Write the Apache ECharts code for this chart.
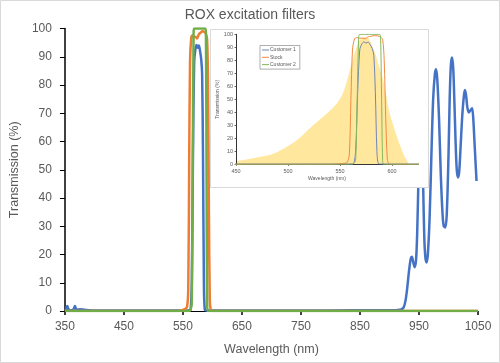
<!DOCTYPE html>
<html>
<head>
<meta charset="utf-8">
<script src="https://cdn.jsdelivr.net/npm/echarts@6/dist/echarts.min.js"></script>
<style>
html,body{margin:0;padding:0;background:#fff;}
#c{width:500px;height:363px;}
</style>
</head>
<body>
<div id="c"></div>
<script>
// ---- Data (wavelength nm -> transmission %) ----
var seriesNames = ['Customer 1', 'Stock', 'Customer 2'];
var excitationName = 'ROX excitation';

var customer1X = [350,352,354,356,359,362,365,367,369,372,376,380,385,390,400,500,555,561,563,565,567,569,571,573,575,577,579,581,582.5,584,585.5,587,590,700,800,880,905,915,920,924,927,930,933,936,938,940,942.5,945,947,949,951,953,955,957,959,961,963,965,968,971,974,977,979,981,984,987,990,992,994.5,997,1000,1002,1004,1006,1008,1010,1012,1014,1016,1018,1020,1023,1026,1028,1030,1032,1034.5,1037,1040,1042,1044,1046,1047.5];
var customer1Y = [0.3,0.6,1.8,0.6,0.3,0.3,0.8,1.8,0.6,0.5,0.6,0.5,0.4,0.3,0.2,0.2,0.2,0.3,0.5,10,55,88,92.5,94.2,93.2,94,92,89,84,55,10,0.5,0.2,0.2,0.2,0.3,0.3,0.4,0.6,1.3,3.5,8,14,18.5,19.2,17.5,15.5,18,28,46,62,69,64,45,26,18.5,17.2,20,33,55,75,84,85.6,82,68,48,34,30,29.6,34,55,75,87,89.7,86,74,60,50,47.3,49,56,68,76,78.2,76,72,70.3,71,71.8,68,60,52,46];

var stockX = [350,540,550,554,557,559,560.5,562,564,566,569,572,574,577,580,583,586,589,591,592.5,594,595.5,597,600,1050];
var stockY = [0,0,0.4,0.8,1.5,8,50,88,96.5,97.5,97,97,96.5,98,98.5,99,98.8,98,96,80,35,4,0.5,0,0];

var customer2X = [350,560,563,565,566.5,568,569,588,589,590,591,592,1050];
var customer2Y = [0,0,0.5,3,50,98,100,100,98,50,3,0,0];

var excitationX = [450,460,470,480,490,500,510,520,530,540,548,553,557,561,565,568,571,574,577,580,584,588,591,594,597,600,604,608,612,615,616];
var excitationY = [2.5,3.7,5.2,6.7,9.5,14,19.5,27,34,41,48,55,65,77,88,94,97,98,97,93,85,74,66,55,42,33,23,14,6,2,0];

var mainXTicks = [350,450,550,650,750,850,950,1050];
var insetXTicks = [450,500,550,600];

function zip(xs, ys){ return xs.map(function(x,i){ return [x, ys[i]]; }); }

var c1 = zip(customer1X, customer1Y);
var st = zip(stockX, stockY);
var c2 = zip(customer2X, customer2Y);
var ex = zip(excitationX, excitationY);

var colors = ['#4472C4', '#ED7D31', '#70AD47'];
var insetColors = ['#6f86b5', '#F08A42', '#86B85A'];
var txt = '#595959';
var font = 'Liberation Sans, Arial, sans-serif';
function plain(v){ return String(v); }

var chart = echarts.init(document.getElementById('c'), null, {renderer:'canvas'});

var option = {
  animation: false,
  backgroundColor: '#fff',
  textStyle: {fontFamily: font},
  title: {
    text: 'ROX excitation filters',
    left: 'center', top: 3,
    textStyle: {fontSize: 14, fontWeight: 'normal', color: txt, fontFamily: font}
  },
  legend: {
    data: seriesNames.map(function(n, i){ return {name: n, icon: 'rect', itemStyle: {color: insetColors[i]}}; }),
    orient: 'vertical',
    left: 260, top: 45.5,
    padding: [2, 4, 2, 2],
    itemGap: 2.3,
    itemWidth: 7, itemHeight: 1,
    borderColor: '#999', borderWidth: 0.8,
    backgroundColor: '#fff',
    textStyle: {fontSize: 5, color: txt, fontFamily: font, padding: [0,0,0,-4]},
    z: 20,
    selectedMode: false
  },
  graphic: [
    {type: 'rect', shape: {x: 0.5, y: 0.5, width: 499, height: 362}, style: {fill: 'none', stroke: '#d9d9d9', lineWidth: 1}, z: 0, silent: true},
    {type: 'rect', shape: {x: 210.5, y: 29.5, width: 218, height: 158}, style: {fill: '#fff', stroke: '#d9d9d9', lineWidth: 1}, z: 10, silent: true}
  ],
  grid: [
    {left: 59.5, right: 22, top: 28.5, bottom: 52},
    {left: 236, right: 82, top: 34.3, bottom: 198.7, z: 12}
  ],
  xAxis: [
    {
      type: 'value', gridIndex: 0, min: 350, max: 1050, interval: 100,
      name: 'Wavelength (nm)', nameLocation: 'middle', nameGap: 32,
      nameTextStyle: {fontSize: 12.5, color: txt, fontFamily: font},
      axisLine: {show: true, lineStyle: {color: '#000', width: 1}},
      axisTick: {show: true, length: 4, lineStyle: {color: '#000', width: 1.5}},
      axisLabel: {fontSize: 12, color: txt, margin: 10, fontFamily: font, formatter: plain},
      splitLine: {show: false}
    },
    {
      type: 'value', gridIndex: 1, min: 450, max: 625, interval: 50,
      name: 'Wavelength (nm)', nameLocation: 'middle', nameGap: 12,
      nameTextStyle: {fontSize: 5, color: txt, fontFamily: font},
      axisLine: {show: true, lineStyle: {color: '#000', width: 0.8}},
      axisTick: {show: true, length: 1.5, customValues: insetXTicks, lineStyle: {color: '#000', width: 0.6}},
      axisLabel: {fontSize: 5.5, color: txt, margin: 4, customValues: insetXTicks, fontFamily: font, formatter: plain},
      splitLine: {show: false},
      z: 13
    }
  ],
  yAxis: [
    {
      type: 'value', gridIndex: 0, min: 0, max: 100, interval: 10,
      name: 'Transmission (%)', nameLocation: 'middle', nameGap: 30,
      nameTextStyle: {fontSize: 12.5, color: txt, fontFamily: font},
      axisLine: {show: true, lineStyle: {color: '#000', width: 1.5}},
      axisTick: {show: true, length: 5, lineStyle: {color: '#000', width: 1}},
      axisLabel: {fontSize: 12, color: txt, margin: 13, fontFamily: font},
      splitLine: {show: false}
    },
    {
      type: 'value', gridIndex: 1, min: 0, max: 100, interval: 10,
      name: 'Transmission (%)', nameLocation: 'middle', nameGap: 14,
      nameTextStyle: {fontSize: 5, color: txt, fontFamily: font},
      axisLine: {show: true, lineStyle: {color: '#000', width: 0.8}},
      axisTick: {show: true, length: 1.5, lineStyle: {color: '#000', width: 0.6}},
      axisLabel: {fontSize: 5.5, color: txt, margin: 3, fontFamily: font},
      splitLine: {show: false},
      z: 13
    }
  ],
  series: [
    {name: excitationName, type: 'line', xAxisIndex: 1, yAxisIndex: 1, data: ex, symbol: 'none',
     lineStyle: {width: 0}, areaStyle: {color: '#FFE699', opacity: 0.95}, z: 12, silent: true, smooth: 0.3},
    {name: seriesNames[0], type: 'line', xAxisIndex: 1, yAxisIndex: 1, data: c1, symbol: 'none',
     lineStyle: {width: 1, color: insetColors[0]}, itemStyle: {color: insetColors[0]}, z: 14, smooth: 0.3},
    {name: seriesNames[1], type: 'line', xAxisIndex: 1, yAxisIndex: 1, data: st, symbol: 'none',
     lineStyle: {width: 1, color: insetColors[1]}, itemStyle: {color: insetColors[1]}, z: 14, smooth: 0.3},
    {name: seriesNames[2], type: 'line', xAxisIndex: 1, yAxisIndex: 1, data: c2, symbol: 'none',
     lineStyle: {width: 1, color: insetColors[2]}, itemStyle: {color: insetColors[2]}, z: 14, smooth: 0.3},
    {name: seriesNames[0], type: 'line', xAxisIndex: 0, yAxisIndex: 0, data: c1, symbol: 'none',
     lineStyle: {width: 2.5, color: colors[0]}, itemStyle: {color: colors[0]}, z: 2, smooth: 0.3},
    {name: seriesNames[1], type: 'line', xAxisIndex: 0, yAxisIndex: 0, data: st, symbol: 'none',
     lineStyle: {width: 2.5, color: colors[1]}, itemStyle: {color: colors[1]}, z: 3, smooth: 0.3},
    {name: seriesNames[2], type: 'line', xAxisIndex: 0, yAxisIndex: 0, data: c2, symbol: 'none',
     lineStyle: {width: 2.5, color: colors[2]}, itemStyle: {color: colors[2]}, z: 4, smooth: 0.3}
  ]
};
chart.setOption(option);
</script>
</body>
</html>
